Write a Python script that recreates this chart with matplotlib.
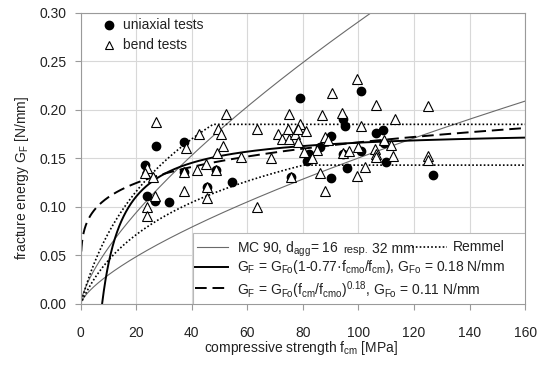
import numpy as np
import matplotlib
matplotlib.use("Agg")
import matplotlib.pyplot as plt
from matplotlib.patches import Rectangle
from matplotlib.lines import Line2D
from matplotlib.transforms import blended_transform_factory, IdentityTransform

plt.rcParams['font.family'] = ['Liberation Sans', 'DejaVu Sans']
plt.rcParams['mathtext.fontset'] = 'custom'
plt.rcParams['mathtext.rm'] = 'Liberation Sans'
plt.rcParams['mathtext.it'] = 'Liberation Sans:italic'
plt.rcParams['mathtext.bf'] = 'Liberation Sans:bold'

# ---------------- data ----------------
uniaxial_f = [23.2, 27.2, 37.3, 24.0, 26.8, 31.8, 37.3, 48.7, 45.4, 54.6,
              79.1, 94.3, 95.3, 90.0, 86.2, 82.3, 81.6, 75.6, 90.0, 94.3,
              95.8, 100.9, 106.5, 108.9, 109.3, 100.9, 110.1, 126.9]
uniaxial_G = [0.143, 0.163, 0.167, 0.111, 0.106, 0.105, 0.136, 0.138, 0.120, 0.126,
              0.212, 0.191, 0.183, 0.173, 0.162, 0.154, 0.147, 0.131, 0.130, 0.154,
              0.140, 0.219, 0.176, 0.179, 0.166, 0.158, 0.146, 0.133]

bend_f = [27.2, 52.2, 42.7, 49.6, 50.4, 51.2, 49.0, 57.7, 37.8, 45.1,
          42.0, 37.3, 48.7, 23.8, 23.2, 26.2, 45.4, 37.3, 45.4, 26.8,
          23.8, 23.8, 63.6, 68.4, 80.4,
          99.6, 90.4, 75.1, 86.8, 94.2, 63.6, 71.2, 72.4, 75.1, 74.8,
          77.2, 79.0, 78.3, 81.1, 78.3, 87.9, 89.1, 85.2, 83.2, 94.3,
          96.7, 99.9, 86.2, 75.6, 87.9, 99.6, 100.9,
          106.5, 125.1, 113.1, 109.3, 105.9, 111.9, 106.5, 106.5, 112.5,
          124.9, 124.9, 102.3]
bend_G = [0.187, 0.196, 0.175, 0.180, 0.175, 0.163, 0.155, 0.151, 0.161, 0.144,
          0.138, 0.136, 0.138, 0.140, 0.135, 0.131, 0.120, 0.116, 0.109, 0.111,
          0.100, 0.091, 0.100, 0.150, 0.157,
          0.232, 0.217, 0.196, 0.195, 0.197, 0.180, 0.175, 0.170, 0.170, 0.180,
          0.175, 0.185, 0.180, 0.178, 0.167, 0.172, 0.169, 0.159, 0.150, 0.155,
          0.158, 0.162, 0.135, 0.131, 0.116, 0.132, 0.183,
          0.205, 0.204, 0.191, 0.169, 0.160, 0.164, 0.154, 0.151, 0.152,
          0.152, 0.148, 0.141]

# model parameters (as stated in the legend / code formulas)
f_cmo = 10.0
MC90_GF0 = [0.030, 0.058]          # d_agg = 16 resp. 32 mm
MC90_exp = 0.7
remmel_k = [0.065, 0.1056]
remmel_cap = [0.143, 0.185]
hyp_GF0, hyp_a = 0.18, 0.77
pow_GF0, pow_exp = 0.11, 0.18

x_ticks = [0, 20, 40, 60, 80, 100, 120, 140, 160]
y_ticks = [0.00, 0.05, 0.10, 0.15, 0.20, 0.25, 0.30]

TXT = '#222222'

# ---------------- figure ----------------
fig = plt.figure(figsize=(5.38, 3.68), dpi=100)
ax = fig.add_axes([0.150, 0.174, 0.826, 0.7915])

f = np.concatenate([np.linspace(0, 2, 200), np.linspace(2, 160, 800)])

for g0 in MC90_GF0:
    ax.plot(f, g0 * (f / f_cmo) ** MC90_exp, color='#6a6a6a', lw=0.8, zorder=2)
for k, cap in zip(remmel_k, remmel_cap):
    ax.plot(f, np.minimum(k * np.log(1 + f / f_cmo), cap), color='black',
            lw=1.2, ls=(0, (1, 1.3)), zorder=2)
fh = f[f >= hyp_a * f_cmo]
ax.plot(fh, hyp_GF0 * (1 - hyp_a * f_cmo / fh), color='black', lw=1.4, zorder=2)
ax.plot(f, pow_GF0 * (f / f_cmo) ** pow_exp, color='black', lw=1.4,
        ls=(0, (6, 3)), zorder=2)

ax.plot(uniaxial_f, uniaxial_G, 'o', color='black', ms=6, zorder=3)
ax.plot(bend_f, bend_G, '^', mfc='white', mec='black', mew=0.8, ms=6.5, zorder=4)

ax.set_xlim(0, 160)
ax.set_ylim(0, 0.30)
ax.set_xticks(x_ticks)
ax.set_yticks(y_ticks)
ax.set_yticklabels([f"{v:.2f}" for v in y_ticks])
ax.grid(True, color='#d8d8d8', lw=0.8)
ax.set_axisbelow(True)
for s in ax.spines.values():
    s.set_color('#9a9a9a')
    s.set_linewidth(0.8)
ax.tick_params(direction='out', length=4, color='#9a9a9a', labelsize=10,
               labelcolor=TXT)
ax.tick_params(axis='x', pad=12)
ax.tick_params(axis='y', pad=6)

ax.set_xlabel("compressive strength f$_\\mathregular{cm}$ [MPa]", fontsize=10, color=TXT)
ax.set_ylabel("fracture energy G$_\\mathregular{F}$ [N/mm]", fontsize=10, color=TXT)
ax.xaxis.set_label_coords(0.496, -0.151)
ax.xaxis.label.set_va('center')
ax.yaxis.set_label_coords(-0.132, 0.433)
ax.yaxis.label.set_va('center')

# top-left legend
ax.plot([0.064], [0.958], 'o', color='black', ms=6, transform=ax.transAxes, zorder=6)
ax.plot([0.064], [0.889], '^', mfc='white', mec='black', mew=0.8, ms=6,
        transform=ax.transAxes, zorder=6)
ax.text(0.096, 0.958, "uniaxial tests", transform=ax.transAxes, va='center',
        fontsize=10, color=TXT, zorder=6)
ax.text(0.096, 0.889, "bend tests", transform=ax.transAxes, va='center',
        fontsize=10, color=TXT, zorder=6)

# bottom-right legend box
ax.add_patch(Rectangle((0.253, 0.0), 0.747, 0.244, transform=ax.transAxes,
                       facecolor='white', edgecolor='#b8b8b8', lw=0.8, zorder=5))
rows_y = [0.197, 0.128, 0.048]
ax.add_line(Line2D([0.262, 0.332], [rows_y[0]] * 2, transform=ax.transAxes,
                   color='#6a6a6a', lw=0.8, zorder=6))
ax.add_line(Line2D([0.746, 0.824], [rows_y[0]] * 2, transform=ax.transAxes,
                   color='black', lw=1.2, ls=(0, (1, 1.3)), zorder=6))
ax.add_line(Line2D([0.258, 0.332], [rows_y[1]] * 2, transform=ax.transAxes,
                   color='black', lw=1.4, zorder=6))
ax.add_line(Line2D([0.258, 0.332], [rows_y[2] + 0.006] * 2, transform=ax.transAxes,
                   color='black', lw=1.4, ls=(0, (6, 3)), zorder=6))

# row 1 built from pieces so that "resp." is smaller
base_y = rows_y[0] - 0.022
t1 = ax.text(0.352, base_y, "MC 90, d$_\\mathregular{agg}$= 16",
             transform=ax.transAxes, va='baseline', fontsize=10, color=TXT, zorder=6)
fig.canvas.draw()
r = fig.canvas.get_renderer()
bt = blended_transform_factory(IdentityTransform(), ax.transAxes)
x1 = t1.get_window_extent(r).x1 + 4
t2 = ax.text(x1, base_y, "resp.", transform=bt, va='baseline', fontsize=8,
             color=TXT, zorder=6)
x2 = t2.get_window_extent(r).x1 + 4
ax.text(x2, base_y, "32 mm", transform=bt, va='baseline', fontsize=10,
        color=TXT, zorder=6)
ax.text(0.838, rows_y[0], "Remmel", transform=ax.transAxes, va='center',
        fontsize=10, color=TXT, zorder=6)
ax.text(0.352, rows_y[1],
        "G$_\\mathregular{F}$ = G$_\\mathregular{Fo}$(1-0.77·f$_\\mathregular{cmo}$/f$_\\mathregular{cm}$), G$_\\mathregular{Fo}$ = 0.18 N/mm",
        transform=ax.transAxes, va='center', fontsize=10, color=TXT, zorder=6)
ax.text(0.352, rows_y[2],
        "G$_\\mathregular{F}$ = G$_\\mathregular{Fo}$(f$_\\mathregular{cm}$/f$_\\mathregular{cmo}$)$^\\mathregular{0.18}$, G$_\\mathregular{Fo}$ = 0.11 N/mm",
        transform=ax.transAxes, va='center', fontsize=10, color=TXT, zorder=6)

fig.savefig("out.png", dpi=100)
